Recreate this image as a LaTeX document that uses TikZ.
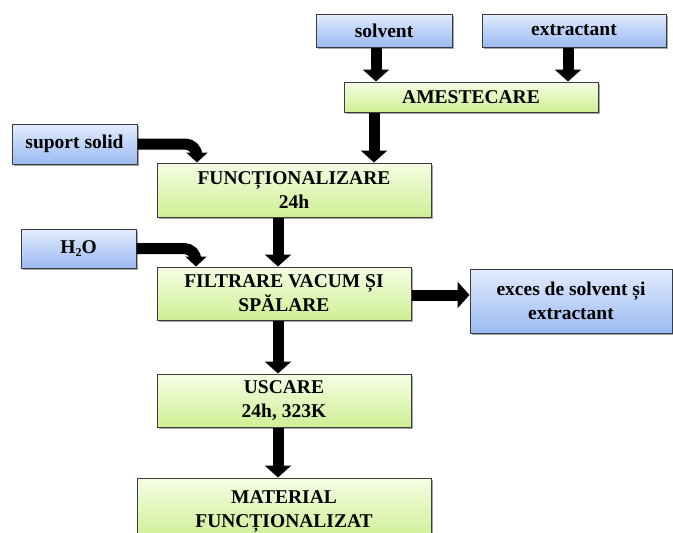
\documentclass[tikz,border=0pt]{standalone}
\usepackage{fontspec}
\setmainfont{Liberation Serif}
\usetikzlibrary{arrows.meta,shadows,calc}
\definecolor{blueT}{RGB}{226,236,253}
\definecolor{blueB}{RGB}{155,186,242}
\definecolor{greenT}{RGB}{245,253,228}
\definecolor{greenB}{RGB}{206,240,148}
\definecolor{edge}{RGB}{60,60,60}
\tikzset{
  box/.style={draw=edge, line width=1pt, inner sep=0pt, align=center,
    font=\fontsize{19.5}{24}\selectfont\bfseries,
    drop shadow={shadow xshift=1.5pt, shadow yshift=-2pt, opacity=0.35, fill=black}},
  bluebox/.style={box, top color=blueT, bottom color=blueB},
  greenbox/.style={box, top color=greenT, bottom color=greenB},
  bigarrow/.style={draw=black, line width=11pt, -{Triangle[width=26pt,length=12pt]}},
  curvearrow/.style={draw=black, line width=11pt, rounded corners=12pt, -{Triangle[width=21pt,length=10pt]}}
}
\begin{document}
\begin{tikzpicture}[x=1pt,y=-1pt]
\clip (0,0) rectangle (673,533);
\node[bluebox, minimum width=136pt, minimum height=33pt] (solv) at (384,30.5) {solvent};
\node[bluebox, minimum width=184pt, minimum height=33pt] (extr) at (574,30.5) {extractant};
\node[greenbox, minimum width=254pt, minimum height=30pt] (ames) at (471,97) {AMESTECARE};
\node[bluebox, minimum width=125pt, minimum height=40pt] (sup) at (74.5,144) {suport solid};
\node[greenbox, minimum width=274pt, minimum height=54pt] (func) at (294,190) {FUNCȚIONALIZARE\\24h};
\node[bluebox, minimum width=115pt, minimum height=39pt] (water) at (78.5,248.5) {H\raisebox{-0.3ex}{\fontsize{12}{12}\selectfont 2}O};
\node[greenbox, minimum width=254pt, minimum height=53pt] (filt) at (284,293.5) {FILTRARE VACUM ȘI\\SPĂLARE};
\node[bluebox, minimum width=202pt, minimum height=64pt] (exces) at (571,301) {exces de solvent și\\extractant};
\node[greenbox, minimum width=294pt, minimum height=62pt, text depth=0pt] (mat) at (284,509) {MATERIAL\\FUNCȚIONALIZAT};
\node[greenbox, minimum width=254pt, minimum height=53pt] (usc) at (284,400.5) {USCARE\\24h, 323K};
\coordinate (xs) at (376,0);
\coordinate (xe) at (568,0);
\coordinate (xa) at (374,0);
\coordinate (xm) at (278,0);
\coordinate (xf) at (197,0);
\coordinate (xw) at (196,0);
\coordinate (yf) at (0,295);
\draw[bigarrow] (solv.south -| xs) -- (ames.north -| xs);
\draw[bigarrow] (extr.south -| xe) -- (ames.north -| xe);
\draw[bigarrow] (ames.south -| xa) -- (func.north -| xa);
\draw[bigarrow] (func.south -| xm) -- (filt.north -| xm);
\draw[bigarrow] (filt.south -| xm) -- (usc.north -| xm);
\draw[bigarrow] (usc.south -| xm) -- (mat.north -| xm);
\draw[bigarrow] (filt.east |- yf) -- (exces.west |- yf);
\draw[curvearrow] (sup.east) -| (func.north -| xf);
\draw[curvearrow] (water.east) -| (filt.north -| xw);
\end{tikzpicture}
\end{document}
